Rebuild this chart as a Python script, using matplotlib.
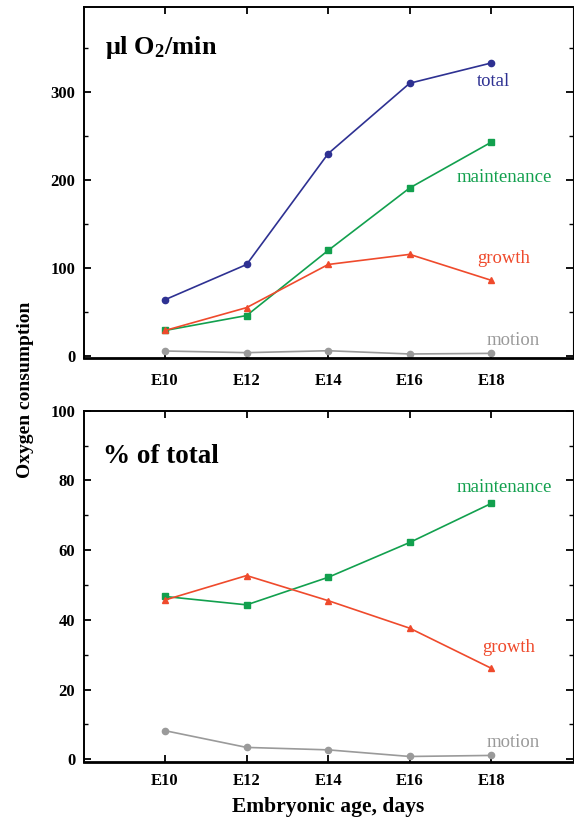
import numpy as np
import matplotlib
matplotlib.use("Agg")
import matplotlib.pyplot as plt
from matplotlib.ticker import MultipleLocator

plt.rcParams['font.family'] = ['Liberation Serif', 'DejaVu Serif']
plt.rcParams['mathtext.fontset'] = 'custom'
plt.rcParams['mathtext.rm'] = 'Liberation Serif:bold'
plt.rcParams['mathtext.bf'] = 'Liberation Serif:bold'
plt.rcParams['mathtext.it'] = 'Liberation Serif:bold'

# embryonic day
days = [10, 12, 14, 16, 18]
day_labels = ["E10", "E12", "E14", "E16", "E18"]

# oxygen consumption, ul O2/min
total = [64, 104, 230, 310, 333]
maintenance = [29, 46, 120, 191, 243]
growth = [29, 55, 104, 115.5, 86]
motion = [5.7, 3.8, 6, 2.3, 3]

# share of total, %
maint_pct = [46.7, 44.3, 52.2, 62.2, 73.4]
growth_pct = [45.7, 52.7, 45.5, 37.6, 26.1]
motion_pct = [8.2, 3.4, 2.7, 0.8, 1.1]

c_total = "#2e3192"
c_maint = "#12a04e"
c_growth = "#ef4a2c"
c_motion = "#9a9a9a"

fig = plt.figure(figsize=(5.74, 8.24), dpi=100)
ax1 = fig.add_axes([0.1455, 0.5655, 0.8525, 0.426])
ax2 = fig.add_axes([0.1455, 0.0756, 0.8525, 0.426])


def style(ax, major, minor, xpad):
    ax.set_xlim(8, 20)
    ax.set_xticks(days)
    ax.set_xticklabels(day_labels)
    ax.yaxis.set_major_locator(MultipleLocator(major))
    ax.yaxis.set_minor_locator(MultipleLocator(minor))
    ax.tick_params(which='major', direction='in', length=5, width=1.3,
                   top=True, right=True, labelsize=12)
    ax.tick_params(which='minor', direction='in', length=3, width=1,
                   right=True)
    ax.tick_params(axis='x', pad=xpad)
    ax.tick_params(axis='y', pad=6)
    for lab in ax.get_xticklabels() + ax.get_yticklabels():
        lab.set_fontweight('bold')
    for s in ax.spines.values():
        s.set_linewidth(1.4)
    ax.spines['bottom'].set_linewidth(2)
    ax.spines['right'].set_linewidth(0.8)


lw = 1.2
ax1.plot(days, total, '-o', color=c_total, lw=lw, ms=4.5)
ax1.plot(days, maintenance, '-s', color=c_maint, lw=lw, ms=5)
ax1.plot(days, growth, '-^', color=c_growth, lw=lw, ms=4.5)
ax1.plot(days, motion, '-o', color=c_motion, lw=lw, ms=4.5)
ax1.set_ylim(-2.3, 396.6)
style(ax1, 100, 50, 11)

ax1.text(18.06, 312, "total", color=c_total, fontsize=13.5, ha='center', va='center')
ax1.text(18.33, 203, "maintenance", color=c_maint, fontsize=13.5, ha='center', va='center')
ax1.text(18.31, 111, "growth", color=c_growth, fontsize=13.5, ha='center', va='center')
ax1.text(18.53, 18, "motion", color=c_motion, fontsize=13.5, ha='center', va='center')
ax1.text(0.044, 0.885, r"μl O$_2$/min", transform=ax1.transAxes, fontsize=19,
         fontweight='bold', ha='left', va='center')

ax2.plot(days, maint_pct, '-s', color=c_maint, lw=lw, ms=5)
ax2.plot(days, growth_pct, '-^', color=c_growth, lw=lw, ms=4.5)
ax2.plot(days, motion_pct, '-o', color=c_motion, lw=lw, ms=4.5)
ax2.set_ylim(-0.7, 100)
style(ax2, 20, 10, 8)

ax2.text(18.33, 78, "maintenance", color=c_maint, fontsize=13.5, ha='center', va='center')
ax2.text(18.42, 32, "growth", color=c_growth, fontsize=13.5, ha='center', va='center')
ax2.text(18.53, 4.7, "motion", color=c_motion, fontsize=13.5, ha='center', va='center')
ax2.text(0.04, 0.87, "% of total", transform=ax2.transAxes, fontsize=19.5,
         fontweight='bold', ha='left', va='center')

ax2.set_xlabel("Embryonic age, days", fontsize=15.5, fontweight='bold', labelpad=6)
fig.text(0.044, 0.527, "Oxygen consumption", rotation=90, fontsize=14,
         fontweight='bold', ha='center', va='center')

fig.savefig("out.png", dpi=100)
